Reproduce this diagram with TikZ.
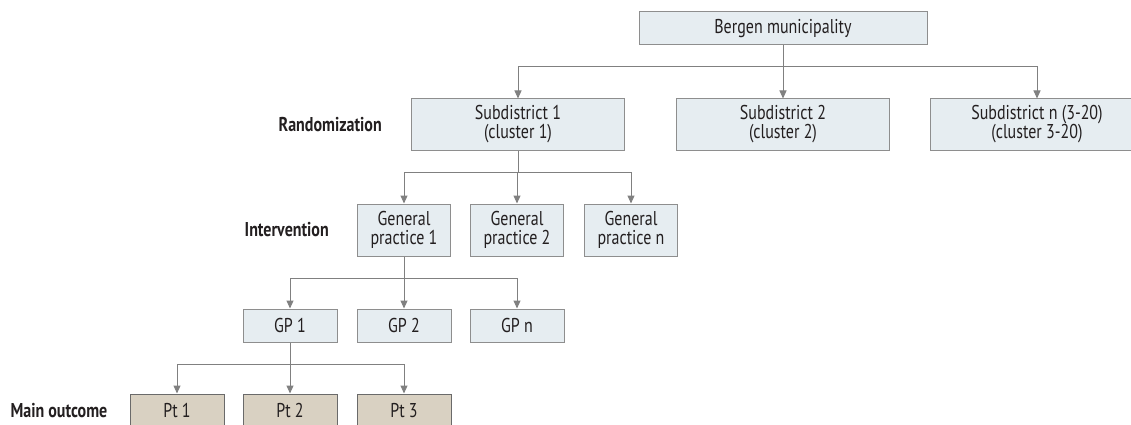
\documentclass[tikz,border=0pt]{standalone}
\usepackage{fontspec}
\setmainfont{PT Sans}[FakeStretch=0.8]
\usetikzlibrary{arrows.meta, positioning}
\definecolor{clrBox}{HTML}{E6EDF1}
\definecolor{clrBoxBd}{HTML}{8E8E8E}
\definecolor{clrPt}{HTML}{D9D1C2}
\definecolor{clrPtBd}{HTML}{6A6A6A}
\definecolor{clrLine}{HTML}{808080}
\definecolor{clrTxt}{HTML}{231F20}

\begin{document}
\begin{tikzpicture}[x=1pt, y=-1pt, node distance=28pt,
    font=\fontsize{20}{19}\selectfont, text=clrTxt,
    box/.style={rectangle, draw=clrBoxBd, fill=clrBox, line width=1pt,
      inner sep=2pt, align=center},
    ptbox/.style={box, draw=clrPtBd, fill=clrPt, minimum width=94pt, minimum height=33pt},
    lvl/.style={font=\bfseries\fontsize{20}{19}\selectfont, inner sep=0pt},
    arr/.style={draw=clrLine, line width=1pt, -{Triangle[width=7pt, length=8pt]}}]
  \useasboundingbox (0,0) rectangle (1131,425);

  % top level
  \node[box, minimum width=288pt, minimum height=33pt] (berg) at (783,28.5) {Bergen municipality};

  % clusters
  \node[box, minimum width=213pt, minimum height=51pt] (sub1) at (518,124.5) {Subdistrict 1\\(cluster 1)};
  \node[box, minimum width=213pt, minimum height=51pt] (sub2) at (783,124.5) {Subdistrict 2\\(cluster 2)};
  \node[box, minimum width=213pt, minimum height=51pt] (subn) at (1037,124.5) {Subdistrict n (3-20)\\(cluster 3-20)};

  % practices
  \node[box, minimum width=93pt, minimum height=52pt] (prac1) at (404,230) {General\\practice 1};
  \node[box, minimum width=93pt, minimum height=52pt] (prac2) at (517,230) {General\\practice 2};
  \node[box, minimum width=93pt, minimum height=52pt] (pracn) at (631,230) {General\\practice n};

  % doctors
  \node[box, minimum width=94pt, minimum height=33pt] (gp1) at (290,325.5) {GP 1};
  \node[box, minimum width=94pt, minimum height=33pt] (gp2) at (404,325.5) {GP 2};
  \node[box, minimum width=94pt, minimum height=33pt] (gpn) at (517,325.5) {GP n};

  % patients
  \node[ptbox] (pt1) at (177,410.5) {Pt 1};
  \node[ptbox] (pt2) at (290,410.5) {Pt 2};
  \node[ptbox] (pt3) at (404,410.5) {Pt 3};

  % level labels
  \node[lvl, left=29pt of sub1] (lblRand) {Randomization};
  \node[lvl, left=28pt of prac1] (lblInt) {Intervention};
  \node[lvl, left=22pt of pt1] (lblOut) {Main outcome};

  % connectors
  \coordinate (busA) at (783,67);
  \coordinate (busB) at (518,172);
  \coordinate (busC) at (404,278);
  \coordinate (busD) at (290,364);
  \draw[draw=clrLine, line width=1pt] (berg.south) -- (busA);
  \draw[draw=clrLine, line width=1pt] (sub1.south) -- (busB);
  \draw[draw=clrLine, line width=1pt] (prac1.south) -- (busC);
  \draw[draw=clrLine, line width=1pt] (gp1.south) -- (busD);
  \foreach \child in {sub1, sub2, subn}
    \draw[arr] (busA) -| (\child.north);
  \foreach \child in {prac1, prac2, pracn}
    \draw[arr] (busB) -| (\child.north);
  \foreach \child in {gp1, gp2, gpn}
    \draw[arr] (busC) -| (\child.north);
  \foreach \child in {pt1, pt2, pt3}
    \draw[arr] (busD) -| (\child.north);
\end{tikzpicture}
\end{document}
